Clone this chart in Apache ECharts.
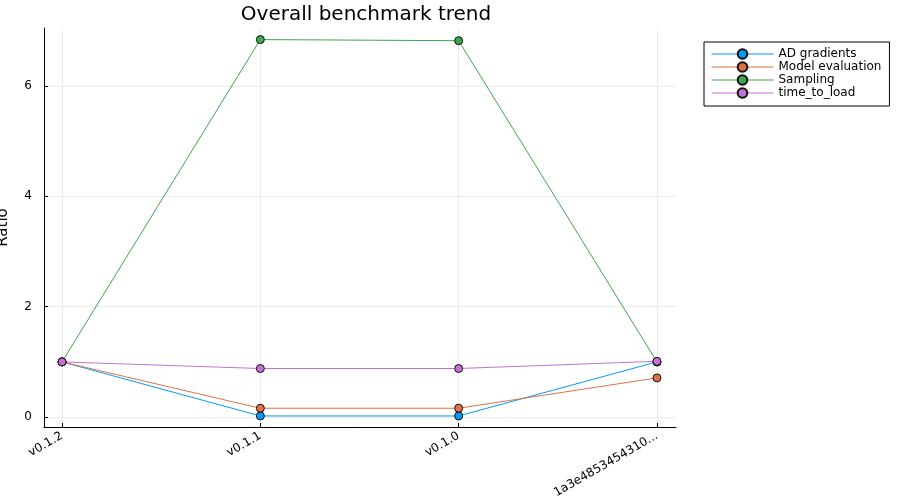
<!DOCTYPE html>
<html>
<head>
<meta charset="utf-8">
<script src="https://cdn.jsdelivr.net/npm/echarts@6/dist/echarts.min.js"></script>
<style>html,body{margin:0;padding:0;background:#fff}#c{width:900px;height:500px}</style>
</head>
<body>
<div id="c"></div>
<script>
const categories = ["v0.1.2", "v0.1.1", "v0.1.0", "1a3e4853454310..."];
const adGradients = [1.0, 0.02, 0.02, 1.0];
const modelEvaluation = [1.0, 0.16, 0.16, 0.71];
const sampling = [1.0, 6.84, 6.82, 1.0];
const timeToLoad = [1.0, 0.88, 0.88, 1.01];
const yTicks = [0, 2, 4, 6];

const seriesDefs = [
  { name: "AD gradients", data: adGradients, color: "#009AFA" },
  { name: "Model evaluation", data: modelEvaluation, color: "#E36F47" },
  { name: "Sampling", data: sampling, color: "#3EA44E" },
  { name: "time_to_load", data: timeToLoad, color: "#C372D1" }
];
const xIdx = categories.map((_, i) => i);

const chart = echarts.init(document.getElementById('c'), null, { renderer: 'canvas' });
chart.setOption({
  animation: false,
  textStyle: { fontFamily: 'DejaVu Sans' },
  title: {
    text: 'Overall benchmark trend',
    left: 361, top: 0, textAlign: 'center',
    textStyle: { fontFamily: 'DejaVu Sans', fontSize: 20, fontWeight: 'normal', color: '#000' }
  },
  legend: {
    orient: 'vertical',
    left: 704, top: 42,
    padding: [6, 8, 7, 7],
    borderColor: '#000', borderWidth: 1,
    itemWidth: 62, itemHeight: 12, itemGap: 1,
    lineStyle: { width: 1 },
    textStyle: { fontFamily: 'DejaVu Sans', fontSize: 12, color: '#000' },
    data: seriesDefs.map(s => s.name)
  },
  grid: { left: 44, right: 224, top: 28, bottom: 73, containLabel: false, outerBoundsMode: 'none' },
  xAxis: {
    type: 'value',
    min: -0.091, max: 3.096,
    axisLine: { onZero: false, lineStyle: { color: '#000', width: 1 } },
    axisTick: { inside: true, length: 4, customValues: xIdx, lineStyle: { color: '#000' } },
    axisLabel: {
      customValues: xIdx, rotate: 30, fontSize: 12, color: '#000', margin: 8,
      formatter: v => categories[Math.round(v)] ?? ''
    },
    splitLine: { show: true, lineStyle: { color: '#ebebeb', width: 1 } }
  },
  yAxis: {
    type: 'value',
    min: -0.18, max: 7.05,
    name: 'Ratio', nameLocation: 'middle', nameGap: 33, nameRotate: 90,
    nameTextStyle: { fontFamily: 'DejaVu Sans', fontSize: 15, color: '#000' },
    axisLine: { show: true, onZero: false, lineStyle: { color: '#000', width: 1 } },
    axisTick: { show: true, inside: true, length: 4, customValues: yTicks, lineStyle: { color: '#000' } },
    axisLabel: { customValues: yTicks, fontSize: 12, color: '#000', margin: 12 },
    splitLine: { show: true, lineStyle: { color: '#ebebeb', width: 1 } }
  },
  series: seriesDefs.map(s => ({
    name: s.name,
    type: 'line',
    data: s.data.map((v, i) => [xIdx[i], v]),
    symbol: 'circle',
    symbolSize: 8,
    lineStyle: { color: s.color, width: 1 },
    itemStyle: { color: s.color, borderColor: '#111', borderWidth: 1 },
    emphasis: { disabled: true }
  }))
});
</script>
</body>
</html>
